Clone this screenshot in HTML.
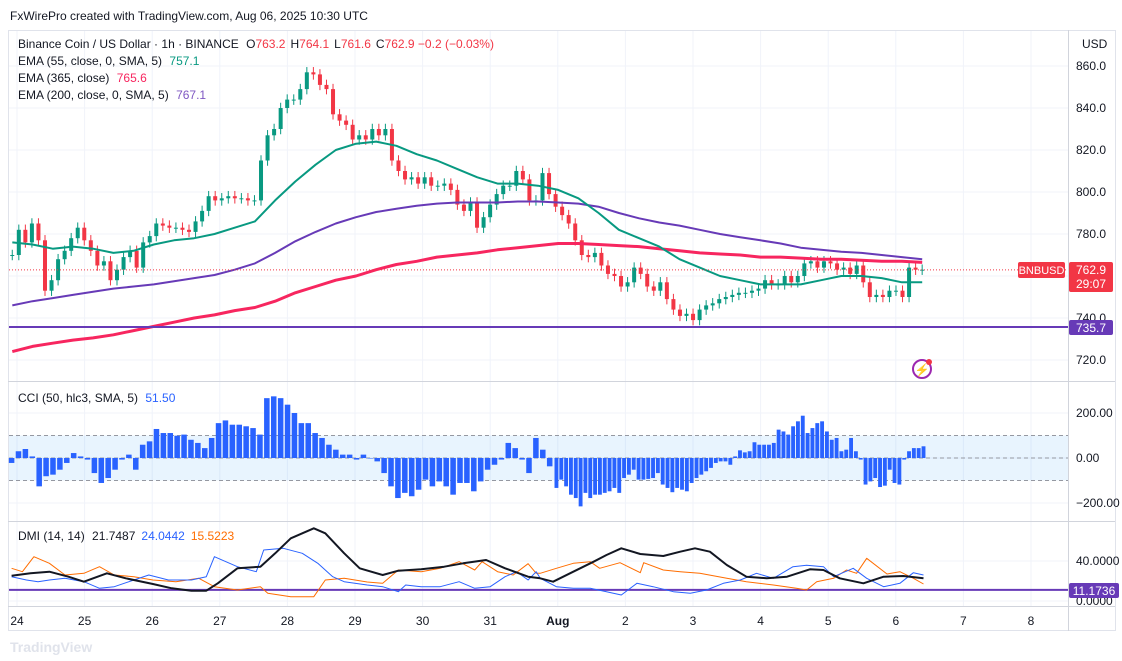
<!DOCTYPE html>
<html><head><meta charset="utf-8"><style>
body{margin:0;background:#fff;font-family:"Liberation Sans",sans-serif}
svg text{font-family:"Liberation Sans",sans-serif}
</style></head><body>
<svg id="c" width="1122" height="656" viewBox="0 0 1122 656" xmlns="http://www.w3.org/2000/svg">
<rect width="1122" height="656" fill="#fff"/>
<text x="10" y="20" font-size="12" fill="#131722">FxWirePro created with TradingView.com, Aug 06, 2025 10:30 UTC</text>
<rect x="8.5" y="30.5" width="1107" height="600" fill="none" stroke="#e0e3eb"/>
<g id="grid"></g>
<g id="cciBand"></g>
<g id="marks"></g>
<line x1="8" y1="381.5" x2="1115" y2="381.5" stroke="#d1d4dc"/>
<line x1="8" y1="521.5" x2="1115" y2="521.5" stroke="#d1d4dc"/>
<line x1="8" y1="606.5" x2="1115" y2="606.5" stroke="#d1d4dc"/>
<line x1="1068.5" y1="30" x2="1068.5" y2="631" stroke="#d1d4dc"/>
<g id="axes"></g>
<text x="1082" y="48" font-size="12" fill="#131722">USD</text>
<g font-size="12">
<text x="18" y="48" fill="#131722">Binance Coin / US Dollar · 1h · BINANCE <tspan dx="4">O</tspan><tspan fill="#f23645">763.2</tspan><tspan dx="5">H</tspan><tspan fill="#f23645">764.1</tspan><tspan dx="5">L</tspan><tspan fill="#f23645">761.6</tspan><tspan dx="5">C</tspan><tspan fill="#f23645">762.9 −0.2 (−0.03%)</tspan></text>
<text x="18" y="65" fill="#131722">EMA (55, close, 0, SMA, 5) <tspan dx="4" fill="#089981">757.1</tspan></text>
<text x="18" y="82" fill="#131722">EMA (365, close) <tspan dx="4" fill="#f7265f">765.6</tspan></text>
<text x="18" y="99" fill="#131722">EMA (200, close, 0, SMA, 5) <tspan dx="4" fill="#7e57c2">767.1</tspan></text>
</g>
<text x="18" y="402" font-size="12" fill="#131722">CCI (50, hlc3, SMA, 5) <tspan dx="4" fill="#2962ff">51.50</tspan></text>
<text x="18" y="540" font-size="12" fill="#131722">DMI (14, 14) <tspan dx="4">21.7487</tspan><tspan dx="6" fill="#2962ff">24.0442</tspan><tspan dx="6" fill="#ff6d00">15.5223</tspan></text>
<g>
<rect x="1018" y="262" width="47" height="16" rx="2" fill="#f23645"/>
<text x="1041.5" y="274" font-size="11" fill="#fff" text-anchor="middle">BNBUSD</text>
<rect x="1069" y="262" width="44" height="30" rx="2" fill="#f23645"/>
<text x="1091" y="274" font-size="12" fill="#fff" text-anchor="middle">762.9</text>
<text x="1091" y="288" font-size="12" fill="#fff" text-anchor="middle">29:07</text>
</g>
<g>
<rect x="1069" y="320" width="44" height="15" rx="2" fill="#673ab7"/>
<text x="1091" y="332" font-size="12" fill="#fff" text-anchor="middle">735.7</text>
</g>
<g>
<rect x="1069" y="583" width="50" height="15" rx="2" fill="#673ab7"/>
<text x="1094" y="595" font-size="12" fill="#fff" text-anchor="middle">11.1736</text>
</g>
<g>
<circle cx="922" cy="369" r="9" fill="none" stroke="#9c27b0" stroke-width="2"/>
<text x="922" y="374" font-size="12" fill="#9c27b0" text-anchor="middle">⚡</text>
<circle cx="929" cy="362" r="3" fill="#f23645"/>
</g>
<text x="10" y="652" font-size="14" fill="#e0e3eb" font-weight="bold">TradingView</text>
</svg>
<script>
const closes=[770,782,776,785,777,753,758,768,772,778,783,777,772,765,767,758,763,769,772,764,776,779,785,784,783,783,782,781,786,791,798,796,797,798,797,797,796,796,815,827,830,840,844,844,849,857,856,851,849,837,834,832,825,827,825,830,827,830,815,810,806,807,804,807,803,803,804,801,794,791,795,783,788,794,799,803,803,810,806,796,796,809,799,793,789,785,777,770,769,771,765,761,760,755,757,764,761,755,753,757,749,744,741,742,739,744,746,747,749,750,751,752,752,753,754,758,756,756,760,757,760,766,767,764,767,766,763,764,761,765,757,750,751,750,753,753,750,764,763,763];
const ema55=[776,775,773,774,773,771,772,775,777,778,780,783,786,796,805,813,820,823,824,822,818,815,811,807,804,804,803,801,797,790,782,778,774,768,764,760,758,756,756,756,758,760,760,759,757,757];
const ema365=[724,726.5,728,729.5,730.5,732,734,736,738,740,741.5,743.5,745,748,752,755,758,760,763,765.5,767,769,770,771,772.5,773.5,774.5,775.5,775.5,775,774.5,774,773,772,771,770.5,770,769,769,768.5,768,768,767.5,767,767,766.5];
const ema200=[746,748,749.5,751,752.5,754,755,756,757.5,759,760.5,763,766,771,776.5,781,785,788,790.5,792,793.5,794.5,795,795,795,795.5,795.5,795,794.5,793,790,787.5,785.5,784,782,780,778.5,777,775.5,773.5,772.5,771.5,771,770,769,768];
const seriesStart=23.93, seriesEnd=37.39;
const cciA=[-22,30,40,7,-126,-81,-74,-52,-22,22,7,-7,-67,-111,-89,-52,-7,15,-52,59,74,129,111,111,99,104,81,67,44,89,155,167,148,148,141,133,104,266,274,266,237,200,155,155,111,89,59,37,15,15,-7,15,0,-15,-67,-126,-178,-155,-170,-141,-96,-126,-104,-126,-163,-111,-111,-148,-104,-52,-30,-7,67,44,-7,-67,89,37,-37];
const cciB=[-133,-96,-126,-163,-178,-215,-155,-178,-163,-163,-155,-148,-133,-155,-89,-74,-52,-96,-96,-93,-89,-67,-118,-133,-152,-133,-141,-148,-111,-89,-74,-59,-44,-22,-15,-15,-30,7,34,25,30,70,59,59,59,67,126,118,104,141,163,188,111,133,155,163,118,81,89,30,37,89,30,-7,-118,-104,-89,-129,-123,-52,-111,-118,-7,30,44,44,52];
const cciASpan=[23.92,31.88], cciBSpan=[31.98,37.41];
const adxDay=[23.92,24.20,24.48,24.76,24.99,25.33,25.61,26.01,26.29,26.58,26.80,26.97,27.26,27.60,27.82,28.05,28.39,28.56,28.84,29.07,29.41,29.64,29.98,30.32,30.60,30.94,31.22,31.56,31.74,31.93,32.23,32.53,32.72,32.94,33.22,33.56,33.81,34.03,34.25,34.50,34.79,35.09,35.39,35.73,35.93,36.17,36.52,36.82,37.11,37.41];
const adxVal=[25.3,27.7,29.3,24.3,19.3,27.7,22.7,17,12.7,10.3,10.3,17.7,32.7,34.3,47.7,62.7,72.7,67.7,47.7,32.7,26,30.3,31.7,34.3,37.7,41,32.7,24.3,22.7,19.3,29.3,39.3,46,52.7,47,45,49.3,52.7,49.3,36,24.3,22.7,24.3,31.7,31,22.7,17.7,24.3,25,22.7];
const pdiDay=[23.92,24.14,24.31,24.48,24.71,24.99,25.22,25.44,25.73,25.95,26.24,26.58,26.80,26.92,27.26,27.54,27.65,27.94,28.22,28.45,28.67,28.84,29.18,29.41,29.64,29.75,29.98,30.26,30.54,30.77,31.00,31.22,31.39,31.56,31.68,31.74,31.98,32.23,32.48,32.72,32.94,33.17,33.41,33.71,33.96,34.20,34.45,34.70,34.94,35.19,35.48,35.68,35.93,36.08,36.37,36.57,36.82,37.06,37.26,37.41];
const pdiVal=[24.3,21,19.3,21,22.7,19.3,12.7,14.3,21,26,21,21,24.3,44.3,34.3,29.3,51,52.7,47.7,37.7,24.3,19.3,16,14.3,9.3,16,14.3,14.3,19.3,12.7,14.3,24.3,29.3,21,29.3,22.7,14.3,12.7,12.7,9.3,6,17.7,14.3,9.3,7.7,11,17.7,21,27.7,22.7,34.3,35.7,34.3,24.3,32.7,22.7,14.3,17.7,28.3,26];
const mdiDay=[23.92,24.08,24.25,24.48,24.71,24.99,25.22,25.44,25.73,26.01,26.35,26.69,26.92,27.26,27.60,27.71,28.05,28.39,28.56,28.84,29.18,29.41,29.64,29.98,30.26,30.54,30.77,30.88,31.11,31.34,31.56,31.68,31.74,31.98,32.23,32.48,32.62,32.92,33.22,33.27,33.56,33.81,34.10,34.50,34.79,35.19,35.53,35.68,35.83,36.08,36.27,36.42,36.57,36.87,37.06,37.26,37.41];
const mdiVal=[32.7,29.3,44.3,37.7,26,27.7,34.3,26,24.3,21,19.3,22.7,14.3,11,14.3,7.7,4.3,4.3,21,22.7,19,17.7,31,29.3,32.7,39.3,31,39.3,29.3,26,37.3,27.7,27.7,32.7,37.7,39.3,32.7,38.3,28.3,38.3,31,29.3,27.7,22.7,19.3,16,12.7,11,19.3,22.7,31,27.7,42.7,27,29.3,22.7,17];
const priceTicks=[860,840,820,800,780,760,740,720];
const cciTicks=[200,0,-200];
const cciTickLabels=["200.00","0.00","−200.00"];
const dmiTicks=[40,0];
const dmiTickLabels=["40.0000","0.0000"];
const dayTicks=[24,25,26,27,28,29,30,31,32,33,34,35,36,37,38,39];
const dayLabels=["24","25","26","27","28","29","30","31","Aug","2","3","4","5","6","7","8"];
const lastPrice=762.9, supportLevel=735.7, dmiLevel=11.1736, cciUpper=100, cciLower=-100;

const NS="http://www.w3.org/2000/svg";
const X=d=>17+(d-24)*67.6;
const YP=p=>66+(860-p)*2.1;
const YC=v=>458-v*0.225;
const YD=v=>601-v;
function mk(tag,attrs,parent){const e=document.createElementNS(NS,tag);for(const k in attrs)e.setAttribute(k,attrs[k]);parent.appendChild(e);return e;}
const grid=document.getElementById('grid'),marks=document.getElementById('marks'),axes=document.getElementById('axes'),band=document.getElementById('cciBand');

dayTicks.forEach((d,i)=>{
  const x=X(d);
  const l=mk('line',{x1:x,x2:x,y1:31,y2:606,stroke:'#f0f3fa'},grid);
  
  
  const t=mk('text',{x:x,y:625,'font-size':12,fill:'#131722','text-anchor':'middle','font-weight':dayLabels[i]==='Aug'?'bold':'normal'},axes);
  t.textContent=dayLabels[i];
  
  
});
priceTicks.forEach(p=>{
  const y=YP(p);
  const l=mk('line',{x1:9,x2:1068,y1:y,y2:y,stroke:'#f0f3fa'},grid);
  
  
  const t=mk('text',{x:1076,y:y+4,'font-size':12,fill:'#131722'},axes);
  t.textContent=p.toFixed(1);
  
  
});
cciTicks.forEach((v,i)=>{
  const y=YC(v);
  const l=mk('line',{x1:9,x2:1068,y1:y,y2:y,stroke:'#f0f3fa'},grid);
  
  
  const t=mk('text',{x:1076,y:y+4,'font-size':12,fill:'#131722'},axes);
  t.textContent=cciTickLabels[i];
  
  
});
dmiTicks.forEach((v,i)=>{
  const y=YD(v);
  const l=mk('line',{x1:9,x2:1068,y1:y,y2:y,stroke:'#f0f3fa'},grid);
  
  
  const t=mk('text',{x:1076,y:y+4,'font-size':12,fill:'#131722'},axes);
  t.textContent=dmiTickLabels[i];
  
  
});
const br=mk('rect',{x:9,y:YC(cciUpper),width:1059,height:YC(cciLower)-YC(cciUpper),fill:'rgba(33,150,243,0.1)'},band);


[cciUpper,0,cciLower].forEach(v=>{
  const l=mk('line',{x1:9,x2:1068,y1:YC(v),y2:YC(v),stroke:'#9598a1','stroke-dasharray':'4 3'},band);
  
  
});
const n=closes.length, step=(seriesEnd-seriesStart)/(n-1);
closes.forEach((c,i)=>{
  const o=i?closes[i-1]:c, x=X(seriesStart+i*step);
  const up=c>=o, col=up?'#089981':'#f23645';
  const hi=Math.max(o,c)+2.5, lo=Math.min(o,c)-2.5;
  const w=mk('line',{x1:x,x2:x,y1:YP(hi),y2:YP(lo),stroke:col,'stroke-width':1},marks);
  
  
  const top=YP(Math.max(o,c)), h=Math.max(1,YP(Math.min(o,c))-top);
  const b=mk('rect',{x:x-2,y:top,width:4,height:h,fill:col},marks);
  
  
});
function emaLine(arr,col,w,name){
  const s=(seriesEnd-seriesStart)/(arr.length-1);
  const pts=arr.map((v,i)=>X(seriesStart+i*s).toFixed(1)+','+YP(v).toFixed(1)).join(' ');
  const p=mk('polyline',{points:pts,fill:'none',stroke:col,'stroke-width':w,'stroke-linejoin':'round'},marks);
  
  
}
emaLine(ema200,'#673ab7',2,'ema-200-line');
emaLine(ema365,'#f7265f',3,'ema-365-line');
emaLine(ema55,'#089981',2,'ema-55-line');
const lp=mk('line',{x1:9,x2:1068,y1:YP(lastPrice),y2:YP(lastPrice),stroke:'#f23645','stroke-dasharray':'1 2'},marks);


const sl=mk('line',{x1:9,x2:1068,y1:YP(supportLevel),y2:YP(supportLevel),stroke:'#673ab7','stroke-width':2},marks);


function cciBars(arr,span){
  const s=(span[1]-span[0])/(arr.length-1), bw=s*67.6*0.8;
  arr.forEach((v,i)=>{
    const x=X(span[0]+i*s), y0=YC(0), y1=YC(v);
    const r=mk('rect',{x:x-bw/2,y:Math.min(y0,y1),width:bw,height:Math.max(0.5,Math.abs(y1-y0)),fill:'#2962ff'},marks);
    
    
  });
}
cciBars(cciA,cciASpan);
cciBars(cciB,cciBSpan);
const dl=mk('line',{x1:9,x2:1068,y1:YD(dmiLevel),y2:YD(dmiLevel),stroke:'#673ab7','stroke-width':2},marks);


function dmiLine(days,vals,col,w,name){
  const pts=days.map((d,i)=>X(d).toFixed(1)+','+YD(vals[i]).toFixed(1)).join(' ');
  const p=mk('polyline',{points:pts,fill:'none',stroke:col,'stroke-width':w,'stroke-linejoin':'round'},marks);
  
  
}
dmiLine(mdiDay,mdiVal,'#ff6d00',1,'minus-di-line');
dmiLine(pdiDay,pdiVal,'#2962ff',1,'plus-di-line');
dmiLine(adxDay,adxVal,'#131722',2,'adx-line');
</script>
</body></html>
